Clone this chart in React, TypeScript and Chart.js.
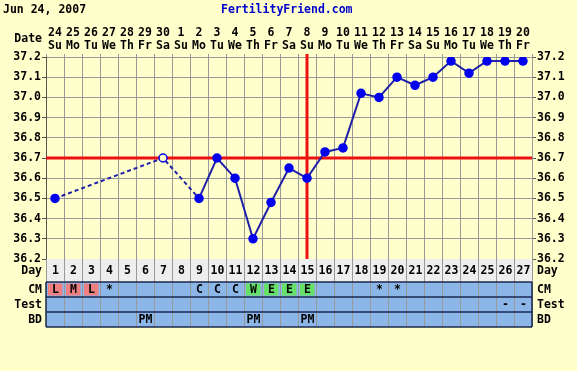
import React, { useEffect, useRef } from "react";
import { Chart, registerables } from "chart.js";
Chart.register(...registerables);

const titleDate = "Jun 24, 2007";
const siteName = "FertilityFriend.com";
const cycleDays = ["1","2","3","4","5","6","7","8","9","10","11","12","13","14","15","16","17","18","19","20","21","22","23","24","25","26","27"];
const dates = ["24","25","26","27","28","29","30","1","2","3","4","5","6","7","8","9","10","11","12","13","14","15","16","17","18","19","20"];
const weekdays = ["Su","Mo","Tu","We","Th","Fr","Sa","Su","Mo","Tu","We","Th","Fr","Sa","Su","Mo","Tu","We","Th","Fr","Sa","Su","Mo","Tu","We","Th","Fr"];
const temps = [36.5, null, null, null, null, null, 36.7, null, 36.5, 36.7, 36.6, 36.3, 36.48, 36.65, 36.6, 36.73, 36.75, 37.02, 37.0, 37.1, 37.06, 37.1, 37.18, 37.12, 37.18, 37.18, 37.18];
const openPointDays = ["7"];
const dashedUntilDay = "9";
const coverline = 36.7;
const ovulationDay = "15";
const cmValues = ["L","M","L","*","","","","","C","C","C","W","E","E","E","","","","*","*","","","","","","",""];
const testValues = ["","","","","","","","","","","","","","","","","","","","","","","","","","-","-"];
const bdValues = ["","","","","","PM","","","","","","PM","","","PM","","","","","","","","","","","",""];
const rowLabels = ["Day","CM","Test","BD"];

const FONT = '"DejaVu Sans Mono", monospace';
const BG = "#ffffcc";

function cellColor(v: string): string | null {
  if (v === "L" || v === "M" || v === "H" || v === "S") return "#f08080";
  if (v === "W" || v === "E") return "#66e066";
  return null;
}

const tablePlugin = {
  id: "ffTable",
  beforeDraw(chart: any) {
    const ctx = chart.ctx;
    ctx.save();
    ctx.fillStyle = BG;
    ctx.fillRect(0, 0, chart.width, chart.height);
    ctx.restore();
  },
  beforeDatasetsDraw(chart: any) {
    const ctx = chart.ctx;
    const x = chart.scales.x;
    const y = chart.scales.y;
    const area = chart.chartArea;
    ctx.save();
    ctx.strokeStyle = "#ee1111";
    ctx.lineWidth = 3;
    const yc = y.getPixelForValue(coverline);
    ctx.beginPath();
    ctx.moveTo(area.left, yc);
    ctx.lineTo(area.right, yc);
    ctx.stroke();
    const xo = x.getPixelForValue(cycleDays.indexOf(ovulationDay));
    ctx.beginPath();
    ctx.moveTo(xo, area.top - 3);
    ctx.lineTo(xo, area.bottom);
    ctx.stroke();
    ctx.restore();
  },
  afterDraw(chart: any) {
    const ctx = chart.ctx;
    const x = chart.scales.x;
    const area = chart.chartArea;
    const n = cycleDays.length;
    const colW = (area.right - area.left) / n;
    const rows = [
      { top: area.bottom, h: 23, vals: cycleDays, bg: "#eeeeee" },
      { top: area.bottom + 23, h: 15, vals: cmValues, bg: "#8db6e8" },
      { top: area.bottom + 38, h: 15, vals: testValues, bg: "#8db6e8" },
      { top: area.bottom + 53, h: 15, vals: bdValues, bg: "#8db6e8" },
    ];
    ctx.save();
    ctx.font = "bold 11.5px " + FONT;
    ctx.textBaseline = "middle";
    rows.forEach((r, ri) => {
      ctx.fillStyle = r.bg;
      ctx.fillRect(area.left, r.top, area.right - area.left, r.h);
      r.vals.forEach((v, i) => {
        const cx = x.getPixelForValue(i);
        if (ri === 1) {
          const c = cellColor(v);
          if (c) {
            ctx.fillStyle = c;
            ctx.fillRect(cx - colW / 2 + 2, r.top + 1.5, colW - 3.5, r.h - 3);
          }
        }
      });
      ctx.strokeStyle = "#999999";
      ctx.lineWidth = 1;
      for (let i = 0; i <= n; i++) {
        const lx = Math.round(area.left + i * colW) + 0.5;
        ctx.beginPath();
        ctx.moveTo(lx, r.top);
        ctx.lineTo(lx, r.top + r.h);
        ctx.stroke();
      }
      ctx.fillStyle = "#000000";
      ctx.textAlign = "center";
      r.vals.forEach((v, i) => {
        if (!v) return;
        const cx = x.getPixelForValue(i);
        ctx.fillText(v, cx + 0.5, r.top + r.h / 2 + 1);
      });
      ctx.textAlign = "right";
      ctx.fillText(rowLabels[ri], area.left - 4, r.top + r.h / 2 + 1);
      ctx.textAlign = "left";
      ctx.fillText(rowLabels[ri], area.right + 5, r.top + r.h / 2 + 1);
    });
    ctx.strokeStyle = "#1a2850";
    ctx.lineWidth = 1.5;
    [area.bottom + 23, area.bottom + 38, area.bottom + 53, area.bottom + 68].forEach((ly) => {
      ctx.beginPath();
      ctx.moveTo(area.left, ly);
      ctx.lineTo(area.right, ly);
      ctx.stroke();
    });
    ctx.beginPath();
    ctx.moveTo(area.left, area.bottom + 23);
    ctx.lineTo(area.left, area.bottom + 68);
    ctx.moveTo(area.right, area.bottom + 23);
    ctx.lineTo(area.right, area.bottom + 68);
    ctx.stroke();

    ctx.textBaseline = "middle";
    ctx.textAlign = "left";
    ctx.fillStyle = "#000000";
    ctx.fillText(titleDate, 3, 10);
    ctx.fillStyle = "#0000cc";
    ctx.fillText(siteName, 221, 10);
    ctx.fillStyle = "#000000";
    ctx.textAlign = "right";
    ctx.fillText("Date", area.left - 4, 39);
    ctx.restore();
  },
};

export default function App() {
  const ref = useRef<HTMLCanvasElement | null>(null);
  useEffect(() => {
    if (!ref.current) return;
    const openIdx = openPointDays.map((d) => cycleDays.indexOf(d));
    const dashEnd = cycleDays.indexOf(dashedUntilDay);
    const chart = new Chart(ref.current, {
      type: "line",
      data: {
        labels: cycleDays,
        datasets: [
          {
            data: temps as any,
            spanGaps: true,
            borderColor: "#1f1fa8",
            borderWidth: 2,
            pointRadius: 4,
            pointBorderWidth: 1.5,
            pointBorderColor: "#0000ee",
            pointBackgroundColor: cycleDays.map((_, i) => (openIdx.includes(i) ? BG : "#0000ee")),
            segment: {
              borderDash: (c: any) => (c.p1DataIndex <= dashEnd ? [4, 3] : undefined),
            },
          },
        ],
      },
      options: {
        animation: false,
        responsive: false,
        layout: { padding: { left: 0, right: 0, top: 0, bottom: 112 } },
        plugins: { legend: { display: false }, tooltip: { enabled: false }, title: { display: false } },
        scales: {
          x: {
            type: "category",
            position: "top",
            offset: true,
            afterFit: (s: any) => { s.height = 57; },
            grid: { offset: true, color: "#999999", tickLength: 3, tickColor: "#999999" },
            border: { color: "#999999" },
            ticks: {
              autoSkip: false,
              maxRotation: 0,
              padding: 1,
              color: "#000000",
              font: { family: FONT, size: 11.5, weight: "bold", lineHeight: 13 / 11.5 },
              callback: (_v: any, i: number) => [dates[i], weekdays[i]],
            },
          },
          y: {
            position: "left",
            min: 36.2,
            max: 37.2,
            afterFit: (s: any) => { s.width = 46; },
            grid: { color: "#999999", tickLength: 4, tickColor: "#555555" },
            border: { color: "#555555" },
            ticks: {
              stepSize: 0.1,
              padding: 1,
              color: "#000000",
              font: { family: FONT, size: 11.5, weight: "bold" },
              callback: (v: any) => Number(v).toFixed(1),
            },
          },
          y2: {
            position: "right",
            min: 36.2,
            max: 37.2,
            afterFit: (s: any) => { s.width = 45; },
            grid: { drawOnChartArea: false, tickLength: 4, tickColor: "#555555" },
            border: { color: "#999999" },
            ticks: {
              stepSize: 0.1,
              padding: 1,
              color: "#000000",
              font: { family: FONT, size: 11.5, weight: "bold" },
              callback: (v: any) => Number(v).toFixed(1),
            },
          },
        },
      },
      plugins: [tablePlugin],
    } as any);
    return () => chart.destroy();
  }, []);
  return (
    <div style={{ position: "absolute", left: 0, top: 0, width: 577, height: 371, background: BG }}>
      <canvas ref={ref} width={577} height={371} style={{ display: "block" }} />
    </div>
  );
}
